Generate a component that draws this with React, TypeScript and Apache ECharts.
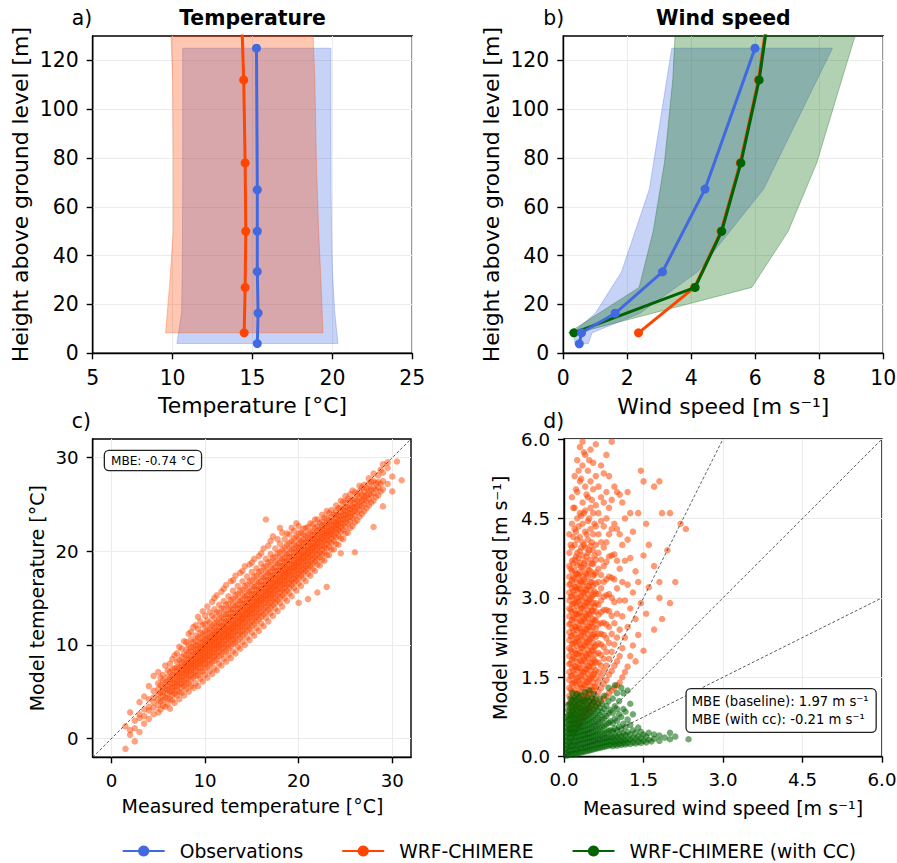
import React, { useEffect, useRef } from "react";
import * as echarts from "echarts";

const FONT = "'DejaVu Sans', sans-serif";
const BLUE = "#4169E1";
const ORANGE = "#FF4500";
const GREEN = "#006400";

// ---------- Panel a: temperature profiles ----------
const tObsHeight = [4, 16.5, 33.5, 50, 67, 125];
const tObsMean = [15.3, 15.35, 15.3, 15.3, 15.3, 15.25];
const tObsLow = [10.27, 10.56, 10.6, 10.62, 10.63, 10.63];
const tObsHigh = [20.35, 20.15, 20.0, 19.95, 19.92, 19.9];
const tWrfHeight = [8.4, 27, 50, 78, 112, 142];
const tWrfMean = [14.48, 14.54, 14.58, 14.54, 14.45, 14.3];
const tWrfBandHeight = [8.4, 27, 50, 78, 112, 130];
const tWrfLow = [9.56, 9.8, 10.04, 10.04, 10.0, 9.9];
const tWrfHigh = [19.41, 19.3, 19.14, 19.0, 18.9, 18.8];

// ---------- Panel b: wind speed profiles ----------
const wObsHeight = [3.9, 8.4, 16.4, 33.4, 67.3, 125];
const wObsMean = [0.5, 0.57, 1.62, 3.1, 4.43, 5.99];
const wObsLow = [0.37, 0.3, 1.0, 1.82, 2.69, 3.39];
const wObsHigh = [0.78, 0.9, 2.4, 4.2, 6.26, 8.41];
const wWrfHeight = [8.4, 27, 50, 78, 112, 142];
const wWrfMean = [2.35, 4.1, 4.93, 5.53, 6.1, 6.42];
const wCcHeight = [8.4, 27, 50, 78, 112, 142];
const wCcMean = [0.33, 4.12, 4.95, 5.55, 6.12, 6.45];
const wCcBandHeight = [8.4, 27, 50, 78, 112, 130];
const wCcLow = [0.16, 2.37, 2.81, 3.16, 3.42, 3.49];
const wCcHigh = [0.45, 5.89, 7.03, 7.92, 8.7, 9.12];

// ---------- Tick labels ----------
const heightTicks = [0, 20, 40, 60, 80, 100, 120];
const tempScatterTicks = [0, 10, 20, 30];

// ---------- Panel c: measured vs model temperature (columns: measured -> model values) ----------
const tempCols: [number, number[]][] = [
  [1.5, [-1.1, 1.3]],
  [2.0, [0.4, 0.9, 2.8]],
  [2.5, [-0.3, 1.1, 1.9]],
  [3.0, [0.7, 2.2, 2.6, 3.9]],
  [3.5, [1.6, 2.4, 3.1, 4.5]],
  [4.0, [2.1, 3.0, 3.4, 4.2, 5.6]],
  [4.5, [2.6, 3.3, 3.9, 4.4, 5.1, 6.7]],
  [5.0, [2.8, 3.6, 4.2, 4.7, 5.3, 5.9, 7.1]],
  [5.5, [3.5, 4.1, 4.6, 5.0, 5.5, 6.2, 6.8]],
  [6.0, [3.7, 4.3, 4.8, 5.2, 5.6, 6.1, 6.6, 7.3]],
  [6.5, [4.1, 4.7, 5.1, 5.5, 5.9, 6.3, 6.8, 7.4, 8.5]],
  [7.0, [4.6, 5.2, 5.6, 6.0, 6.3, 6.7, 7.1, 7.6, 8.2, 9.1]],
  [7.5, [4.9, 5.5, 5.9, 6.3, 6.6, 7.0, 7.3, 7.7, 8.1, 8.7, 9.6]],
  [8.0, [5.3, 5.9, 6.4, 6.8, 7.1, 7.4, 7.7, 8.0, 8.4, 8.9, 9.5, 10.3]],
  [8.5, [5.6, 6.3, 6.8, 7.2, 7.5, 7.8, 8.1, 8.4, 8.8, 9.3, 9.8, 10.6, 11.4]],
  [9.0, [5.9, 6.7, 7.2, 7.6, 7.9, 8.2, 8.5, 8.8, 9.1, 9.5, 9.9, 10.4, 11.0, 12.1]],
  [9.5, [6.4, 7.1, 7.6, 8.0, 8.3, 8.6, 8.9, 9.2, 9.5, 9.8, 10.2, 10.7, 11.3, 12.5]],
  [10.0, [6.8, 7.5, 8.0, 8.4, 8.7, 9.0, 9.3, 9.6, 9.9, 10.2, 10.6, 11.0, 11.5, 12.2, 13.1]],
  [10.5, [7.2, 7.9, 8.4, 8.8, 9.1, 9.4, 9.7, 10.0, 10.3, 10.6, 10.9, 11.3, 11.8, 12.4, 13.5]],
  [11.0, [7.5, 8.3, 8.8, 9.2, 9.6, 9.9, 10.2, 10.5, 10.8, 11.1, 11.4, 11.8, 12.3, 12.9, 13.8, 15.0]],
  [11.5, [8.0, 8.8, 9.3, 9.7, 10.0, 10.3, 10.6, 10.9, 11.2, 11.5, 11.9, 12.3, 12.8, 13.4, 14.3]],
  [12.0, [8.5, 9.2, 9.7, 10.1, 10.5, 10.8, 11.1, 11.4, 11.7, 12.0, 12.4, 12.8, 13.3, 13.9, 14.7, 16.0]],
  [12.5, [8.9, 9.6, 10.1, 10.6, 10.9, 11.2, 11.5, 11.8, 12.1, 12.5, 12.9, 13.3, 13.8, 14.4, 15.2]],
  [13.0, [9.3, 10.1, 10.6, 11.0, 11.4, 11.7, 12.0, 12.3, 12.6, 13.0, 13.4, 13.8, 14.3, 14.9, 15.8, 16.9]],
  [13.5, [9.8, 10.5, 11.1, 11.5, 11.9, 12.2, 12.5, 12.8, 13.1, 13.5, 13.9, 14.3, 14.8, 15.4, 16.3]],
  [14.0, [10.3, 11.0, 11.5, 12.0, 12.4, 12.7, 13.0, 13.3, 13.6, 14.0, 14.4, 14.8, 15.3, 15.9, 16.8, 17.9]],
  [14.5, [10.8, 11.5, 12.0, 12.5, 12.9, 13.2, 13.5, 13.8, 14.1, 14.5, 14.9, 15.3, 15.8, 16.4, 17.3]],
  [15.0, [11.3, 12.0, 12.5, 13.0, 13.4, 13.7, 14.0, 14.3, 14.6, 15.0, 15.4, 15.8, 16.3, 16.9, 17.8, 18.8]],
  [15.5, [11.8, 12.5, 13.0, 13.5, 13.9, 14.2, 14.5, 14.8, 15.1, 15.5, 15.9, 16.3, 16.8, 17.4, 18.2]],
  [16.0, [12.3, 13.0, 13.5, 14.0, 14.4, 14.7, 15.0, 15.3, 15.6, 16.0, 16.4, 16.8, 17.3, 17.9, 18.7, 19.8]],
  [16.5, [12.9, 13.5, 14.0, 14.5, 14.9, 15.2, 15.5, 15.8, 16.1, 16.5, 16.9, 17.3, 17.8, 18.4, 19.2, 23.4]],
  [17.0, [13.4, 14.0, 14.5, 15.0, 15.4, 15.7, 16.0, 16.3, 16.6, 17.0, 17.4, 17.8, 18.3, 18.9, 19.7, 21.1]],
  [17.5, [13.9, 14.5, 15.0, 15.5, 15.9, 16.2, 16.5, 16.8, 17.1, 17.5, 17.9, 18.3, 18.8, 19.4, 20.3]],
  [18.0, [14.5, 15.1, 15.6, 16.0, 16.4, 16.7, 17.0, 17.3, 17.6, 18.0, 18.4, 18.8, 19.3, 19.9, 20.8, 22.5]],
  [18.5, [15.0, 15.6, 16.1, 16.5, 16.9, 17.2, 17.5, 17.8, 18.1, 18.5, 18.9, 19.3, 19.8, 20.4, 21.3]],
  [19.0, [15.5, 16.1, 16.6, 17.0, 17.4, 17.7, 18.0, 18.3, 18.6, 19.0, 19.4, 19.8, 20.3, 20.9, 21.8]],
  [19.5, [16.1, 16.7, 17.1, 17.5, 17.9, 18.2, 18.5, 18.8, 19.1, 19.5, 19.9, 20.3, 20.8, 21.4, 22.2]],
  [20.0, [14.5, 16.6, 17.2, 17.6, 18.0, 18.4, 18.7, 19.0, 19.3, 19.6, 20.0, 20.4, 20.8, 21.3, 21.9, 22.7]],
  [20.5, [17.1, 17.7, 18.1, 18.5, 18.9, 19.2, 19.5, 19.8, 20.1, 20.5, 20.9, 21.3, 21.8, 22.4]],
  [21.0, [14.9, 17.6, 18.2, 18.6, 19.0, 19.4, 19.7, 20.0, 20.3, 20.6, 21.0, 21.4, 21.9, 22.6]],
  [21.5, [18.1, 18.7, 19.2, 19.6, 20.0, 20.3, 20.6, 20.9, 21.3, 21.7, 22.2, 22.9]],
  [22.0, [15.6, 18.6, 19.2, 19.7, 20.1, 20.5, 20.8, 21.1, 21.4, 21.8, 22.2, 22.7, 23.4]],
  [22.5, [19.1, 19.7, 20.2, 20.6, 21.0, 21.3, 21.6, 21.9, 22.3, 22.7, 23.2, 23.9]],
  [23.0, [16.2, 19.6, 20.3, 20.8, 21.2, 21.6, 21.9, 22.2, 22.6, 23.0, 23.5, 24.3]],
  [23.5, [20.2, 20.9, 21.4, 21.8, 22.1, 22.4, 22.8, 23.2, 23.7, 24.4]],
  [24.0, [20.8, 21.5, 22.0, 22.4, 22.8, 23.1, 23.5, 23.9, 24.3, 24.9]],
  [24.5, [19.8, 21.4, 22.1, 22.6, 23.0, 23.4, 23.8, 24.2, 24.7, 25.4]],
  [25.0, [21.9, 22.6, 23.1, 23.5, 23.9, 24.3, 24.7, 25.2, 25.9]],
  [25.5, [22.5, 23.2, 23.7, 24.1, 24.5, 24.9, 25.4, 26.1]],
  [26.0, [19.9, 23.1, 23.8, 24.3, 24.7, 25.1, 25.6, 26.3]],
  [26.5, [23.7, 24.4, 24.9, 25.3, 25.8, 26.4, 27.0]],
  [27.0, [24.3, 25.0, 25.5, 25.9, 26.4, 27.1]],
  [27.5, [24.9, 25.6, 26.1, 26.6, 27.2, 27.8]],
  [28.0, [22.6, 25.4, 26.2, 26.8, 27.5, 28.3]],
  [28.5, [26.0, 26.8, 27.4, 28.1]],
  [29.0, [24.8, 26.6, 27.5, 28.4, 29.3]],
  [29.5, [27.2, 28.9, 29.5]],
  [30.0, [26.4, 28.0]],
  [30.5, [29.6]],
  [31.0, [27.6]],
  // in-between columns
  [5.25, [3.1, 4.0, 4.9, 5.7, 6.5]],
  [5.75, [3.4, 4.4, 5.3, 6.0, 7.8]],
  [6.25, [3.2, 4.2, 5.0, 5.7, 6.4, 7.1, 8.0]],
  [6.75, [3.8, 4.8, 5.5, 6.1, 6.8, 7.5, 8.9]],
  [7.25, [4.2, 5.0, 5.8, 6.5, 7.0, 7.6, 8.4, 9.8]],
  [7.75, [4.6, 5.6, 6.2, 6.9, 7.5, 8.2, 9.0, 10.4]],
  [8.25, [5.0, 5.9, 6.6, 7.3, 7.9, 8.6, 9.3, 10.0, 11.2]],
  [8.75, [5.4, 6.5, 7.0, 7.7, 8.3, 9.0, 9.7, 10.3, 11.9]],
  [9.25, [5.6, 6.8, 7.5, 8.1, 8.7, 9.3, 10.0, 10.8, 11.7, 13.0]],
  [9.75, [6.1, 7.2, 7.9, 8.5, 9.1, 9.7, 10.4, 11.2, 12.1, 13.6]],
  [10.25, [6.5, 7.7, 8.3, 8.9, 9.5, 10.1, 10.8, 11.6, 12.6, 14.1]],
  [10.75, [6.9, 8.1, 8.7, 9.3, 9.9, 10.5, 11.2, 12.0, 13.1, 14.6]],
  [11.25, [7.3, 8.5, 9.1, 9.7, 10.3, 10.9, 11.6, 12.4, 13.5, 15.3]],
  [11.75, [7.8, 9.0, 9.6, 10.2, 10.8, 11.4, 12.1, 12.9, 13.9, 15.7]],
  [12.25, [8.2, 9.4, 10.0, 10.6, 11.2, 11.8, 12.5, 13.3, 14.3, 16.4]],
  [12.75, [8.6, 9.9, 10.5, 11.1, 11.7, 12.3, 13.0, 13.8, 14.8, 16.8]],
  [13.25, [9.1, 10.3, 10.9, 11.5, 12.1, 12.7, 13.4, 14.2, 15.3, 17.4]],
  [13.75, [9.6, 10.8, 11.4, 12.0, 12.6, 13.2, 13.9, 14.7, 15.8, 17.7]],
  [14.25, [10.0, 11.3, 11.9, 12.5, 13.1, 13.7, 14.4, 15.2, 16.3, 18.4]],
  [14.75, [10.5, 11.8, 12.4, 13.0, 13.6, 14.2, 14.9, 15.7, 16.8, 18.6]],
  [15.25, [11.0, 12.3, 12.9, 13.5, 14.1, 14.7, 15.4, 16.2, 17.3, 19.2]],
  [15.75, [11.5, 12.8, 13.4, 14.0, 14.6, 15.2, 15.9, 16.7, 17.8, 19.5]],
  [16.25, [12.0, 13.3, 13.9, 14.5, 15.1, 15.7, 16.4, 17.2, 18.3, 20.3]],
  [16.75, [12.5, 13.8, 14.4, 15.0, 15.6, 16.2, 16.9, 17.7, 18.8, 20.6]],
  [17.25, [13.1, 14.3, 14.9, 15.5, 16.1, 16.7, 17.4, 18.2, 19.3, 21.6]],
  [17.75, [13.6, 14.8, 15.4, 16.0, 16.6, 17.2, 17.9, 18.7, 19.8, 21.3]],
  [18.25, [14.1, 15.3, 15.9, 16.5, 17.1, 17.7, 18.4, 19.2, 20.2, 22.0]],
  [18.75, [14.7, 15.8, 16.4, 17.0, 17.6, 18.2, 18.9, 19.7, 20.7, 21.9]],
  [19.25, [15.2, 16.4, 16.9, 17.5, 18.1, 18.7, 19.4, 20.2, 21.1, 22.5]],
  [19.75, [15.8, 16.9, 17.4, 18.0, 18.6, 19.2, 19.9, 20.6, 21.6, 23.0]],
  [20.25, [16.3, 17.4, 17.9, 18.5, 19.1, 19.7, 20.4, 21.1, 22.0]],
  [20.75, [16.8, 17.9, 18.4, 19.0, 19.6, 20.2, 20.9, 21.6, 22.5]],
  [21.25, [17.4, 18.4, 18.9, 19.5, 20.1, 20.7, 21.3, 22.0, 23.0]],
  [21.75, [17.9, 18.9, 19.4, 20.0, 20.6, 21.2, 21.8, 22.5, 23.4]],
  [22.25, [18.5, 19.4, 19.9, 20.5, 21.1, 21.7, 22.3, 23.0]],
  [22.75, [19.0, 19.9, 20.5, 21.1, 21.7, 22.2, 22.8, 23.6]],
  [23.25, [19.6, 20.5, 21.1, 21.7, 22.2, 22.7, 23.3, 24.1]],
  [23.75, [20.2, 21.1, 21.7, 22.2, 22.7, 23.2, 23.9]],
  [24.25, [20.7, 21.7, 22.3, 22.8, 23.3, 23.8, 24.6]],
  [24.75, [21.3, 22.3, 22.9, 23.4, 23.9, 24.5, 25.3]],
  [25.25, [22.0, 23.0, 23.6, 24.1, 24.7, 25.6]],
  [25.75, [22.7, 23.6, 24.2, 24.8, 25.5, 26.5]],
  [26.25, [23.3, 24.2, 24.8, 25.4, 26.1]],
  [26.75, [24.0, 24.8, 25.4, 26.0, 26.8]],
  [27.25, [24.6, 25.4, 26.0, 26.7]],
  [27.75, [25.2, 26.0, 26.6, 27.4]],
  [28.25, [25.8, 26.6, 27.3]],
  [28.75, [26.4, 27.2, 28.7]],
];
const tempOneToOne = [[-2, -2], [32, 32]];

// ---------- Panel d: measured vs model wind speed ----------
const windWrfCols: [number, number[]][] = [
  [0.10, [0.55, 0.7, 0.85, 1.0, 1.15, 1.3, 1.45, 1.6, 1.75, 1.9, 2.05, 2.2, 2.35, 2.5, 2.65, 2.8, 2.95, 3.1, 3.25, 3.4, 3.6, 3.85, 4.2]],
  [0.125, [0.5, 0.78, 1.02, 1.27, 1.52, 1.77, 2.02, 2.27, 2.52, 2.77, 3.02, 3.27, 3.55, 4.0]],
  [0.15, [0.45, 0.62, 0.78, 0.93, 1.08, 1.23, 1.38, 1.53, 1.68, 1.83, 1.98, 2.13, 2.28, 2.43, 2.58, 2.73, 2.88, 3.03, 3.18, 3.33, 3.5, 3.7, 3.95, 4.4, 4.9]],
  [0.175, [0.62, 0.88, 1.13, 1.38, 1.63, 1.88, 2.13, 2.38, 2.63, 2.88, 3.13, 3.38, 3.65, 4.15, 4.7]],
  [0.20, [0.5, 0.66, 0.81, 0.96, 1.11, 1.26, 1.41, 1.56, 1.71, 1.86, 2.01, 2.16, 2.31, 2.46, 2.61, 2.76, 2.91, 3.06, 3.21, 3.36, 3.52, 3.72, 4.0, 4.3, 4.7, 5.3]],
  [0.225, [0.7, 0.95, 1.2, 1.45, 1.7, 1.95, 2.2, 2.45, 2.7, 2.95, 3.2, 3.45, 3.78, 4.25, 5.05]],
  [0.25, [0.58, 0.74, 0.89, 1.04, 1.19, 1.34, 1.49, 1.64, 1.79, 1.94, 2.09, 2.24, 2.39, 2.54, 2.69, 2.84, 2.99, 3.14, 3.29, 3.45, 3.62, 3.85, 4.1, 4.5, 5.0, 5.6]],
  [0.275, [0.68, 0.93, 1.18, 1.43, 1.68, 1.93, 2.18, 2.43, 2.68, 2.93, 3.18, 3.43, 3.75, 4.35, 5.4]],
  [0.30, [0.6, 0.76, 0.92, 1.07, 1.22, 1.37, 1.52, 1.67, 1.82, 1.97, 2.12, 2.27, 2.42, 2.57, 2.72, 2.87, 3.02, 3.17, 3.32, 3.48, 3.66, 3.88, 4.15, 4.6, 5.2, 5.85]],
  [0.325, [0.8, 1.05, 1.3, 1.55, 1.8, 2.05, 2.3, 2.55, 2.8, 3.05, 3.3, 3.58, 3.95, 4.55, 5.25]],
  [0.35, [0.7, 0.85, 1.0, 1.15, 1.3, 1.45, 1.6, 1.75, 1.9, 2.05, 2.2, 2.35, 2.5, 2.65, 2.8, 2.95, 3.1, 3.25, 3.4, 3.58, 3.8, 4.05, 4.4, 4.8, 5.5, 5.95]],
  [0.375, [0.85, 1.1, 1.35, 1.6, 1.85, 2.1, 2.35, 2.6, 2.85, 3.1, 3.35, 3.65, 4.0, 4.6, 5.75]],
  [0.40, [0.75, 0.9, 1.05, 1.2, 1.35, 1.5, 1.65, 1.8, 1.95, 2.1, 2.25, 2.4, 2.55, 2.7, 2.85, 3.0, 3.15, 3.3, 3.48, 3.7, 3.95, 4.25, 4.65, 5.1, 5.7]],
  [0.425, [0.9, 1.16, 1.41, 1.66, 1.91, 2.16, 2.41, 2.66, 2.91, 3.16, 3.45, 3.78, 4.2, 4.95]],
  [0.45, [0.8, 0.96, 1.11, 1.26, 1.41, 1.56, 1.71, 1.86, 2.01, 2.16, 2.31, 2.46, 2.61, 2.76, 2.91, 3.06, 3.22, 3.4, 3.6, 3.85, 4.1, 4.45, 4.9, 5.4]],
  [0.475, [0.92, 1.2, 1.45, 1.7, 1.95, 2.2, 2.45, 2.7, 2.95, 3.22, 3.52, 3.9, 4.5, 5.6]],
  [0.50, [0.85, 1.02, 1.18, 1.33, 1.48, 1.63, 1.78, 1.93, 2.08, 2.23, 2.38, 2.53, 2.68, 2.83, 2.98, 3.14, 3.3, 3.5, 3.72, 3.98, 4.3, 4.7, 5.2, 5.8]],
  [0.525, [1.0, 1.26, 1.51, 1.76, 2.01, 2.26, 2.51, 2.76, 3.02, 3.3, 3.65, 4.05, 4.85]],
  [0.55, [0.9, 1.08, 1.25, 1.4, 1.55, 1.7, 1.85, 2.0, 2.15, 2.3, 2.45, 2.6, 2.75, 2.9, 3.06, 3.23, 3.42, 3.64, 3.9, 4.2, 4.6, 5.05, 5.55]],
  [0.575, [1.05, 1.32, 1.57, 1.82, 2.07, 2.32, 2.57, 2.84, 3.12, 3.44, 3.8, 4.4]],
  [0.60, [0.95, 1.15, 1.32, 1.48, 1.63, 1.78, 1.94, 2.1, 2.26, 2.42, 2.58, 2.74, 2.9, 3.08, 3.27, 3.48, 3.72, 4.0, 4.35, 4.75, 5.3, 5.9]],
  [0.65, [1.0, 1.22, 1.42, 1.6, 1.78, 1.96, 2.14, 2.32, 2.5, 2.68, 2.87, 3.07, 3.3, 3.55, 3.85, 4.2, 4.6, 5.1]],
  [0.70, [1.05, 1.3, 1.52, 1.72, 1.92, 2.12, 2.32, 2.52, 2.73, 2.95, 3.18, 3.43, 3.72, 4.05, 4.45, 4.9, 5.5]],
  [0.75, [1.1, 1.38, 1.62, 1.85, 2.07, 2.3, 2.53, 2.77, 3.02, 3.3, 3.6, 3.95, 4.35, 4.8, 5.35]],
  [0.80, [1.15, 1.45, 1.72, 1.98, 2.24, 2.5, 2.77, 3.05, 3.35, 3.68, 4.05, 4.5, 5.0, 5.7]],
  [0.85, [1.2, 1.55, 1.85, 2.15, 2.45, 2.75, 3.07, 3.4, 3.78, 4.2, 4.7, 5.3]],
  [0.90, [1.25, 1.62, 1.98, 2.32, 2.66, 3.0, 3.38, 3.8, 4.3, 4.85, 5.95]],
  [0.95, [1.3, 1.72, 2.12, 2.52, 2.92, 3.35, 3.82, 4.4, 5.1]],
  [1.00, [1.35, 1.8, 2.25, 2.7, 3.18, 3.7, 4.3, 5.0]],
  [1.05, [1.4, 1.9, 2.4, 2.95, 3.55, 4.2, 4.95]],
  [1.10, [1.5, 2.05, 2.65, 3.3, 4.0, 4.8]],
  [1.15, [1.6, 2.25, 2.95, 3.7, 4.5]],
  [1.20, [1.7, 2.45, 3.25, 4.1, 5.0]],
  [1.25, [1.9, 2.8, 3.75, 4.6]],
  [1.30, [2.1, 3.1, 4.25]],
  [1.35, [1.8, 2.6, 3.5]],
  [1.40, [2.3, 3.3, 4.6]],
  [1.45, [2.9, 5.4]],
  [1.50, [2.0, 3.8, 5.2]],
  [1.55, [2.7, 4.4]],
  [1.60, [3.2, 4.0]],
  [1.70, [2.4, 3.6, 5.1]],
  [1.80, [3.0, 3.3, 5.2]],
  [1.85, [2.6, 4.6]],
  [1.95, [3.9]],
  [2.00, [2.9, 4.6]],
  [2.10, [3.3]],
  [2.20, [4.4]],
  [2.30, [4.3]],
];
const windCcCols: [number, number[]][] = [
  [0.04, [0.02, 0.08, 0.15, 0.22, 0.3, 0.38, 0.46, 0.55, 0.65, 0.75]],
  [0.08, [0.03, 0.11, 0.19, 0.27, 0.35, 0.43, 0.51, 0.6, 0.69, 0.78, 0.88, 0.98]],
  [0.12, [0.05, 0.13, 0.21, 0.29, 0.37, 0.45, 0.53, 0.62, 0.71, 0.8, 0.9, 1.0, 1.1]],
  [0.16, [0.04, 0.12, 0.2, 0.28, 0.36, 0.44, 0.52, 0.6, 0.69, 0.78, 0.87, 0.97, 1.07, 1.2]],
  [0.20, [0.06, 0.14, 0.22, 0.3, 0.38, 0.46, 0.54, 0.63, 0.72, 0.81, 0.9, 1.0, 1.1]],
  [0.24, [0.05, 0.13, 0.21, 0.29, 0.37, 0.45, 0.53, 0.61, 0.7, 0.79, 0.88, 0.98, 1.08, 1.18]],
  [0.28, [0.07, 0.15, 0.23, 0.31, 0.39, 0.47, 0.55, 0.64, 0.73, 0.82, 0.92, 1.02, 1.13]],
  [0.32, [0.08, 0.16, 0.24, 0.32, 0.4, 0.48, 0.56, 0.65, 0.74, 0.83, 0.93, 1.04, 1.16]],
  [0.36, [0.09, 0.17, 0.25, 0.33, 0.41, 0.49, 0.57, 0.66, 0.75, 0.85, 0.95, 1.06]],
  [0.40, [0.1, 0.18, 0.26, 0.34, 0.42, 0.5, 0.59, 0.68, 0.77, 0.87, 0.97, 1.08, 1.22]],
  [0.44, [0.11, 0.19, 0.27, 0.35, 0.43, 0.51, 0.6, 0.69, 0.79, 0.89, 1.0, 1.12]],
  [0.48, [0.12, 0.2, 0.28, 0.36, 0.44, 0.53, 0.62, 0.72, 0.82, 0.93, 1.05, 1.25]],
  [0.52, [0.13, 0.21, 0.29, 0.37, 0.46, 0.55, 0.65, 0.75, 0.86, 0.98, 1.1]],
  [0.56, [0.14, 0.22, 0.3, 0.38, 0.47, 0.57, 0.67, 0.78, 0.9, 1.03, 1.18]],
  [0.60, [0.15, 0.23, 0.31, 0.4, 0.49, 0.59, 0.7, 0.82, 0.95, 1.08]],
  [0.64, [0.16, 0.24, 0.32, 0.41, 0.51, 0.62, 0.74, 0.87, 1.0]],
  [0.68, [0.17, 0.25, 0.33, 0.42, 0.53, 0.65, 0.78, 0.92, 1.1]],
  [0.72, [0.18, 0.26, 0.34, 0.44, 0.56, 0.69, 0.84, 1.0]],
  [0.76, [0.19, 0.27, 0.35, 0.45, 0.58, 0.73, 0.9, 1.15]],
  [0.80, [0.2, 0.28, 0.36, 0.47, 0.61, 0.77, 0.96]],
  [0.84, [0.21, 0.29, 0.37, 0.49, 0.64, 0.82, 1.05, 1.3]],
  [0.88, [0.22, 0.3, 0.38, 0.5, 0.67, 0.88]],
  [0.92, [0.2, 0.28, 0.37, 0.48, 0.63, 0.83, 1.1]],
  [0.96, [0.23, 0.31, 0.4, 0.53, 0.72, 0.95, 1.35]],
  [1.00, [0.21, 0.29, 0.38, 0.5, 0.68, 0.9, 1.2]],
  [1.04, [0.24, 0.32, 0.42, 0.57, 0.8, 1.05]],
  [1.08, [0.22, 0.3, 0.39, 0.52, 0.75, 1.3]],
  [1.12, [0.25, 0.33, 0.44, 0.62, 0.9, 1.2]],
  [1.16, [0.23, 0.31, 0.41, 0.56, 0.85]],
  [1.20, [0.26, 0.34, 0.46, 0.7, 1.25]],
  [1.25, [0.24, 0.32, 0.42, 0.6, 1.0]],
  [1.30, [0.27, 0.36, 0.5, 0.8]],
  [1.35, [0.25, 0.34, 0.45]],
  [1.40, [0.28, 0.38, 0.55]],
  [1.45, [0.26, 0.35, 0.47]],
  [1.50, [0.3, 0.42]],
  [1.55, [0.27, 0.38]],
  [1.60, [0.32, 0.45]],
  [1.65, [0.29]],
  [1.70, [0.34, 0.42]],
  [1.80, [0.3, 0.4]],
  [1.90, [0.36]],
  [2.00, [0.33, 0.45]],
  [2.10, [0.38]],
  [2.35, [0.33]],
];
const windRefSlopes = [2, 1, 0.5];

const legendNames = ["Observations", "WRF-CHIMERE", "WRF-CHIMERE (with CC)"];

// ---------- helpers ----------
const flatten = (cols: [number, number[]][]) =>
  cols.flatMap(([x, ys]) => ys.map((y) => [x, y]));

const grids = [
  { left: 92.7, top: 36, width: 319.6, height: 317.3 },
  { left: 563.3, top: 36, width: 320, height: 317.3 },
  { left: 92.7, top: 439, width: 318.3, height: 318.3 },
  { left: 564, top: 439, width: 318, height: 317.7 },
];

function makeAxis(gi: number, min: number, max: number, fontSize: number, margin: number, extra: any = {}) {
  const base: any = {
    type: "value",
    gridIndex: gi,
    min,
    max,
    axisLine: { show: true, onZero: false, lineStyle: { color: "#000", width: 1.4 } },
    axisTick: { show: true, length: 6, lineStyle: { color: "#000", width: 1.4 } },
    axisLabel: { color: "#000", fontSize, fontFamily: FONT, margin },
    splitLine: { show: true, lineStyle: { color: "#ebebeb", width: 1 } },
  };
  return {
    ...base,
    ...extra,
    axisTick: { ...base.axisTick, ...(extra.axisTick || {}) },
    axisLabel: { ...base.axisLabel, ...(extra.axisLabel || {}) },
  };
}

function band(id: string, gi: number, hs: number[], lo: number[], hi: number[], rgb: string, z: number) {
  return {
    type: "custom",
    id,
    xAxisIndex: gi,
    yAxisIndex: gi,
    z,
    silent: true,
    data: hs.map((h, i) => [lo[i], hi[i], h]),
    encode: { x: [0, 1], y: 2 },
    renderItem: (params: any, api: any) => {
      if (params.dataIndex !== 0) return null;
      const pts: number[][] = [];
      for (let i = 0; i < hs.length; i++) pts.push(api.coord([lo[i], hs[i]]));
      for (let i = hs.length - 1; i >= 0; i--) pts.push(api.coord([hi[i], hs[i]]));
      return {
        type: "polygon",
        shape: { points: pts },
        style: { fill: `rgba(${rgb},0.3)`, stroke: `rgba(${rgb},0.3)`, lineWidth: 1 },
      };
    },
  };
}

function profile(name: string, gi: number, xs: number[], hs: number[], color: string, z: number) {
  return {
    type: "line",
    name,
    xAxisIndex: gi,
    yAxisIndex: gi,
    z,
    clip: true,
    data: xs.map((x, i) => [x, hs[i]]),
    symbol: "circle",
    symbolSize: 9,
    showSymbol: true,
    lineStyle: { color, width: 3 },
    itemStyle: { color },
    emphasis: { disabled: true },
  };
}

function refLine(gi: number, data: number[][], z: number) {
  return {
    type: "line",
    xAxisIndex: gi,
    yAxisIndex: gi,
    z,
    clip: true,
    silent: true,
    data,
    symbol: "none",
    lineStyle: { color: "#333", width: 0.8, type: [3, 2] },
    emphasis: { disabled: true },
  };
}

function scatter(gi: number, data: number[][], color: string, opacity: number, size: number, z: number) {
  return {
    type: "scatter",
    xAxisIndex: gi,
    yAxisIndex: gi,
    z,
    silent: true,
    data,
    symbolSize: size,
    itemStyle: { color, opacity, borderWidth: 0 },
    emphasis: { disabled: true },
  };
}

function txt(text: string, x: number, y: number, size: number, opts: any = {}) {
  return {
    type: "text",
    x,
    y,
    rotation: opts.rotation || 0,
    silent: true,
    style: {
      text,
      fontFamily: FONT,
      fontSize: size,
      fontWeight: opts.bold ? "bold" : "normal",
      fill: "#000",
      align: opts.align || "center",
      verticalAlign: "middle",
    },
  };
}

export default function App() {
  const ref = useRef<HTMLDivElement>(null);

  useEffect(() => {
    if (!ref.current) return;
    const chart = echarts.init(ref.current, undefined, { renderer: "svg" });

    const fmt1 = (v: number) => v.toFixed(1);

    const option: any = {
      animation: false,
      backgroundColor: "#fff",
      grid: grids.map((g) => ({
        ...g,
        show: true,
        borderColor: "#000",
        borderWidth: 1.4,
        backgroundColor: "transparent",
        containLabel: false,
        outerBoundsMode: "none",
      })),
      xAxis: [
        makeAxis(0, 5, 25, 20.4, 15, { interval: 5 }),
        makeAxis(1, 0, 10, 20.4, 15, { interval: 2 }),
        makeAxis(2, -2, 32, 18.2, 14, {
          minInterval: 10,
          maxInterval: 10,
          axisTick: { customValues: tempScatterTicks },
          axisLabel: { customValues: tempScatterTicks },
        }),
        makeAxis(3, 0, 6, 18.2, 14, { interval: 1.5, axisLabel: { formatter: fmt1 } }),
      ],
      yAxis: [
        makeAxis(0, 0, 130, 20.4, 14, {
          interval: 20,
          axisTick: { customValues: heightTicks },
          axisLabel: { customValues: heightTicks },
        }),
        makeAxis(1, 0, 130, 20.4, 14, {
          interval: 20,
          axisTick: { customValues: heightTicks },
          axisLabel: { customValues: heightTicks },
        }),
        makeAxis(2, -2, 32, 18.2, 14, {
          minInterval: 10,
          maxInterval: 10,
          axisTick: { customValues: tempScatterTicks },
          axisLabel: { customValues: tempScatterTicks },
        }),
        makeAxis(3, 0, 6, 18.2, 14, { interval: 1.5, axisLabel: { formatter: fmt1 } }),
      ],
      legend: {
        data: legendNames,
        left: 121.7,
        top: 841.5,
        padding: 0,
        orient: "horizontal",
        itemWidth: 42,
        itemHeight: 14,
        itemGap: 38,
        selectedMode: false,
        textStyle: { color: "#000", fontSize: 18.7, fontFamily: FONT, padding: [0, 0, 0, 10] },
      },
      series: [
        // panel a
        band("a-obs-band", 0, tObsHeight, tObsLow, tObsHigh, "65,105,225", 1),
        band("a-wrf-band", 0, tWrfBandHeight, tWrfLow, tWrfHigh, "255,69,0", 2),
        profile("WRF-CHIMERE", 0, tWrfMean, tWrfHeight, ORANGE, 3),
        profile("Observations", 0, tObsMean, tObsHeight, BLUE, 4),
        // panel b
        band("b-obs-band", 1, wObsHeight, wObsLow, wObsHigh, "65,105,225", 1),
        band("b-cc-band", 1, wCcBandHeight, wCcLow, wCcHigh, "0,100,0", 2),
        profile("WRF-CHIMERE", 1, wWrfMean, wWrfHeight, ORANGE, 3),
        profile("WRF-CHIMERE (with CC)", 1, wCcMean, wCcHeight, GREEN, 4),
        profile("Observations", 1, wObsMean, wObsHeight, BLUE, 5),
        // panel c
        scatter(2, flatten(tempCols), ORANGE, 0.5, 6.5, 2),
        refLine(2, tempOneToOne, 5),
        // panel d
        scatter(3, flatten(windWrfCols), ORANGE, 0.55, 6.5, 2),
        scatter(3, flatten(windCcCols), GREEN, 0.55, 6.5, 3),
        ...windRefSlopes.map((s) => refLine(3, [[0, 0], [6, 6 * s]], 5)),
      ],
      graphic: [
        txt("a)", 71.7, 18, 20.4, { align: "left" }),
        txt("Temperature", 252.5, 18, 20.4, { bold: true }),
        txt("b)", 543.3, 18, 20.4, { align: "left" }),
        txt("Wind speed", 723.3, 18, 20.4, { bold: true }),
        txt("c)", 71.7, 421, 20.4, { align: "left" }),
        txt("d)", 543.3, 421, 20.4, { align: "left" }),
        txt("Height above ground level [m]", 20, 194.7, 21.9, { rotation: Math.PI / 2 }),
        txt("Temperature [°C]", 252.5, 405.5, 21.9),
        txt("Height above ground level [m]", 491.7, 194.7, 21.9, { rotation: Math.PI / 2 }),
        txt("Wind speed [m s⁻¹]", 723.3, 406, 21.9),
        txt("Model temperature [°C]", 36.7, 598.2, 19, { rotation: Math.PI / 2 }),
        txt("Measured temperature [°C]", 252.5, 806, 19),
        txt("Model wind speed [m s⁻¹]", 500, 597.8, 19, { rotation: Math.PI / 2 }),
        txt("Measured wind speed [m s⁻¹]", 723, 808, 19),
        {
          type: "text",
          x: 105,
          y: 451,
          z: 100,
          silent: true,
          style: {
            text: "MBE: -0.74 °C",
            fontFamily: FONT,
            fontSize: 12.1,
            fill: "#000",
            backgroundColor: "#fff",
            borderColor: "#222",
            borderWidth: 1.3,
            borderRadius: 4,
            padding: [4, 6, 3, 6],
            align: "left",
            verticalAlign: "top",
          },
        },
        {
          type: "text",
          x: 686.7,
          y: 689.3,
          z: 100,
          silent: true,
          style: {
            text: "MBE (baseline): 1.97 m s⁻¹\nMBE (with cc): -0.21 m s⁻¹",
            fontFamily: FONT,
            fontSize: 13.2,
            lineHeight: 17.6,
            fill: "#000",
            backgroundColor: "#fff",
            borderColor: "#222",
            borderWidth: 1.3,
            borderRadius: 4,
            padding: [3.6, 7, 3.6, 5],
            align: "left",
            verticalAlign: "top",
          },
        },
      ],
    };

    chart.setOption(option);
    return () => chart.dispose();
  }, []);

  return (
    <div
      ref={ref}
      style={{ position: "absolute", left: 0, top: 0, width: 897, height: 863 }}
    />
  );
}
